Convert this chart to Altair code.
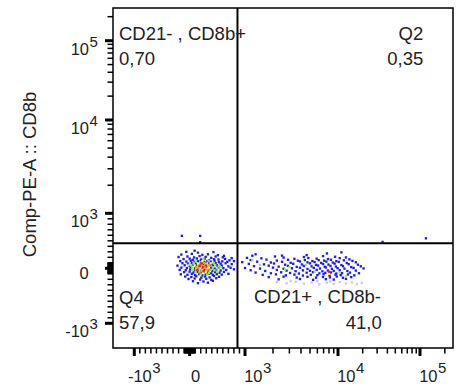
import math
import altair as alt
import pandas as pd

# ---------------- data ----------------
# Level codes: 0 pale, 1 blue, 2 green, 3 yellow, 4 orange, 5 red (density colour)
Q4_CD21 = [-60, 150, 430, 90, -150, 40, 230, 330, 510, 620, -200, -40, 80, 180, 290, 390, 470, 600, 760,
           -110, 0, 60, 130, 210, 270, 350, 440, 520, 640, 720, -170, -60, 20, 90, 150, 200, 260, 320, 380,
           450, 530, 590, 680, 800, -130, -30, 40, 110, 170, 230, 290, 350, 410, 470, 560, 650, 760,
           -220, -90, 0, 60, 120, 180, 240, 300, 360, 420, 490, 580, 700, -150, -50, 20, 100, 160, 230,
           310, 390, 450, 520, 610, 740, -180, -70, 10, 80, 150, 210, 270, 340, 410, 480, 560, 660, 800,
           -100, 0, 70, 140, 200, 260, 330, 390, 460, 540, 620, -160, -40, 40, 100, 170, 230, 290, 350,
           420, 490, 580, 700, -80, 30, 120, 210, 280, 360, 440, 530, -20, 90, 190, 300, 390, 480, 60,
           250, 420, 150, 330]
Q4_CD8B = [300, 285, 295, 320, 250, 262, 245, 255, 240, 228, 205, 215, 198, 222, 208, 190, 215, 200, 185,
           168, 175, 155, 178, 160, 172, 150, 165, 158, 170, 145, 130, 122, 138, 115, 128, 140, 118, 133, 120,
           138, 112, 126, 118, 130, 92, 85, 98, 80, 95, 82, 100, 88, 78, 96, 84, 92, 75,
           48, 55, 42, 60, 38, 52, 65, 45, 58, 40, 55, 48, 35, 12, 5, 18, 0, 15, -2,
           20, 8, -5, 14, 2, 10, -28, -35, -22, -40, -25, -38, -20, -32, -45, -26, -40, -30, -18,
           -70, -62, -78, -65, -85, -60, -75, -90, -68, -80, -66, -110, -118, -100, -125, -105, -130, -112, -98,
           -120, -108, -115, -100, -150, -160, -145, -170, -150, -165, -140, -155, -195, -185, -205, -190, -210, -180, -235,
           -240, -228, -270, -262]
Q4_HOT_CD21 = [250, 110, 340, 70, 190, 300, 430, 30, 160, 330, 460, 530, 50, 140, 250, 420, 500, 60, 180, 300,
               380, 450, 110, 240, 350, 500, 200, 320, -20, 560,
               230, 150, 380, 90, 270, 200, 330, 230, 290, 120,
               260, 220, 350, 120, 280, 320, 180, 170,
               210, 180, 290, 240, 130, 250]
Q4_HOT_CD8B = [168, 125, 140, 90, 102, 85, 95, 48, 62, 50, 60, 40, 12, 22, 8, 18, -2, -30, -22, -40,
               -28, -36, -72, -66, -80, -62, -112, -120, 60, 20,
               130, 88, 92, 52, 40, 15, 0, -35, -70, -10,
               95, 55, 62, 25, 10, -28, -75, 30,
               90, 45, 50, 18, -30, -45]
Q4_HOT_LEVEL = [2] * 30 + [3] * 10 + [4] * 8 + [5] * 6

Q3_CD21 = [1300, 7600, 11000, 2500, 4600, 1200, 2100, 4300, 6900, 9300, 12500,
           1050, 1500, 2600, 3400, 4800, 5900, 7800, 10500, 13800,
           1150, 1700, 2200, 2900, 3700, 4400, 5300, 6200, 7100, 8400, 9600, 11800, 15000,
           950, 1350, 1900, 2500, 3100, 3900, 4700, 5600, 6600, 7500, 8800, 10200, 12800, 16500,
           1100, 1600, 2050, 2700, 3300, 4100, 5000, 5800, 6900, 7900, 9200, 11000, 13500, 17500,
           1250, 1800, 2300, 2900, 3600, 4300, 5200, 6100, 7200, 8300, 9500, 11500, 14500, 19000,
           1000, 1450, 2000, 2600, 3200, 3900, 4700, 5500, 6400, 7400, 8600, 9900, 12000, 15500, 20500,
           1150, 1650, 2200, 2800, 3500, 4200, 5000, 5900, 6800, 7800, 9000, 10500, 13000, 16500,
           1300, 1900, 2450, 3050, 3800, 4600, 5400, 6300, 7300, 8400, 9600, 11200, 14000, 18000,
           1550, 2150, 2750, 3400, 4200, 5100, 6000, 7000, 8100, 9400, 10800, 13200, 15800,
           1800, 2600, 3600, 4700, 5800, 6900, 8200, 9700, 11500, 14500,
           2300, 3900, 5400, 7400, 9000, 12500]
Q3_CD8B = [255, 270, 290, 230, 240, 228, 215, 205, 222, 210, 198,
           190, 182, 195, 172, 188, 176, 168, 185, 162,
           150, 158, 140, 155, 138, 150, 132, 148, 140, 155, 130, 145, 135,
           112, 120, 105, 118, 100, 125, 108, 115, 98, 122, 104, 116, 96, 110,
           80, 72, 88, 65, 82, 70, 90, 62, 78, 68, 85, 60, 75, 66,
           40, 48, 30, 45, 25, 42, 35, 50, 28, 44, 32, 38, 22, 36,
           5, -5, 12, -8, 0, 10, -12, 8, -4, 15, -10, 2, -6, 6, -2,
           -35, -48, -30, -42, -52, -38, -45, -30, -55, -40, -48, -35, -50, -42,
           -78, -90, -72, -85, -95, -80, -70, -92, -82, -75, -95, -88, -78, -90,
           -120, -110, -128, -115, -132, -118, -125, -108, -130, -115, -125, -112, -128,
           -160, -152, -168, -155, -170, -158, -165, -150, -172, -160,
           -200, -195, -210, -198, -205, -192]
Q3_PALE_CD21 = [2200, 2800, 3500, 4300, 5200, 6300, 7600, 9000, 10500, 12500, 14800, 17000, 19500, 3100, 8200, 6000]
Q3_PALE_CD8B = [-250, -272, -245, -280, -258, -290, -262, -285, -250, -275, -258, -290, -265, -230, -240, -235]
Q3_HOT_CD21 = [1200, 3000, 2700, 4500, 10500, 12500, 5600, 1450, 8000, 8000]
Q3_HOT_CD8B = [152, 22, -20, 62, -80, -140, -60, 60, -100, -62]
Q3_HOT_LEVEL = [2, 2, 2, 2, 2, 2, 2, 2, 3, 5]

UPPER_CD21 = [-140, 190, 190, 35000, 118000]
UPPER_CD8B = [590, 590, 475, 480, 545]

GATE_CD21 = [864]
GATE_CD8B = [457]

MAJOR_VALUES = [-1000, 0, 1000, 10000, 100000]
MAJOR_BASE = ["-10", "0", "10", "10", "10"]
MAJOR_EXP = ["3", "", "3", "4", "5"]
MINOR_VALUES = ([-k * 100 for k in range(1, 10)] + [-k * 10 for k in range(1, 10)] +
                [k * 10 for k in range(1, 10)] + [k * 100 for k in range(1, 10)] +
                [k * 1000 for k in range(2, 10)] + [k * 10000 for k in range(2, 10)] + [200000])

QUAD_TEXT = ["CD21- , CD8b+", "0,70", "Q2", "0,35", "Q4", "57,9", "CD21+ , CD8b-", "41,0"]
Y_TITLE = "Comp-PE-A :: CD8b"

# ---------------- build tables ----------------
cd21 = (Q4_CD21 + Q4_HOT_CD21 + Q3_CD21 + Q3_PALE_CD21 + Q3_HOT_CD21 + UPPER_CD21)
cd8b = (Q4_CD8B + Q4_HOT_CD8B + Q3_CD8B + Q3_PALE_CD8B + Q3_HOT_CD8B + UPPER_CD8B)
level = ([1] * len(Q4_CD21) + Q4_HOT_LEVEL + [1] * len(Q3_CD21) + [0] * len(Q3_PALE_CD21)
         + Q3_HOT_LEVEL + [1] * len(UPPER_CD21))
events = pd.DataFrame({"cd21": cd21, "cd8b": cd8b, "lvl": level}).sort_values("lvl", kind="stable")


def u_expr(f):
    # biexponential-like display transform: linear within +-1000, log beyond
    return (f"abs(datum.{f}) <= 1000 ? datum.{f} / 1000 : "
            f"(datum.{f} > 0 ? 1 : -1) * (1 + log(abs(datum.{f}) / 1000) / LN10)")


FONT = "Liberation Sans"
TXT = "#222222"
TICK = "#000000"

x_axis = alt.Axis(ticks=False, labels=False, domain=False, grid=False, title=None)
y_axis = alt.Axis(ticks=False, labels=False, domain=False, grid=False, title=Y_TITLE,
                  titleFont=FONT, titleFontSize=18.5, titleFontWeight="normal", titleColor=TXT,
                  titleAngle=-90, titleAlign="center", titleBaseline="alphabetic",
                  titleX=-77.5, titleY=166)

x_scale = alt.Scale(domain=[-1.385, -1, 1, 2, 3, 3.40], range=[0, 21.3, 132, 225, 307, 340],
                    nice=False, zero=False)
y_scale = alt.Scale(domain=[-1.449, -1, 1, 2, 3, 3.41], range=[340, 315.3, 205.3, 112, 32.7, 0],
                    nice=False, zero=False)

X = alt.X("ux:Q", scale=x_scale, axis=x_axis)
Y = alt.Y("uy:Q", scale=y_scale, axis=y_axis)

points = (alt.Chart(events)
          .transform_calculate(ux=u_expr("cd21"), uy=u_expr("cd8b"))
          .mark_square(size=5.5, opacity=1)
          .encode(x=X, y=Y,
                  color=alt.Color("lvl:O", legend=None,
                                  scale=alt.Scale(domain=[0, 1, 2, 3, 4, 5],
                                                  range=["#c9c9f7", "#1a1aff", "#9cf03c",
                                                         "#ffff20", "#ff9a10", "#ff1a1a"]))))

vgate = (alt.Chart(pd.DataFrame({"g": GATE_CD21}))
         .transform_calculate(ux=u_expr("g"))
         .mark_rule(color="black", strokeWidth=2)
         .encode(x=X))
hgate = (alt.Chart(pd.DataFrame({"g": GATE_CD8B}))
         .transform_calculate(uy=u_expr("g"))
         .mark_rule(color="black", strokeWidth=2)
         .encode(y=Y))

# axis ticks drawn from the tick value lists through the same scales
maj = alt.Chart(pd.DataFrame({"tv": MAJOR_VALUES})).transform_calculate(tx=u_expr("tv"))
mnr = alt.Chart(pd.DataFrame({"tv": MINOR_VALUES})).transform_calculate(tx=u_expr("tv"))
XT = alt.X("tx:Q", scale=x_scale, axis=x_axis)
YT = alt.Y("tx:Q", scale=y_scale, axis=y_axis)
x_maj = maj.mark_rule(color=TICK, strokeWidth=3, clip=False).encode(
    x=XT, y=alt.value(340), y2=alt.value(348))
x_mnr = mnr.mark_rule(color=TICK, strokeWidth=1.5, clip=False).encode(
    x=XT, y=alt.value(340), y2=alt.value(345.5))
y_maj = maj.mark_rule(color=TICK, strokeWidth=3, clip=False).encode(
    y=YT, x=alt.value(-8), x2=alt.value(0))
y_mnr = mnr.mark_rule(color=TICK, strokeWidth=1.5, clip=False).encode(
    y=YT, x=alt.value(-5.5), x2=alt.value(0))

ticks_df = pd.DataFrame({"v": MAJOR_VALUES, "base": MAJOR_BASE, "exp": MAJOR_EXP})
tl = alt.Chart(ticks_df).transform_calculate(ux=u_expr("v"), uy=u_expr("v"))
dec = tl.transform_filter("datum.v != 0")
zer = tl.transform_filter("datum.v == 0")

x_base = dec.mark_text(align="right", baseline="alphabetic", dx=17.5, font=FONT, fontSize=16.5,
                       color=TXT).encode(x=X, y=alt.value(373.7), text="base:N")
x_exp = dec.mark_text(align="left", baseline="alphabetic", dx=18, font=FONT, fontSize=15,
                      color=TXT).encode(x=X, y=alt.value(365.3), text="exp:N")
x_zero = zer.mark_text(align="center", baseline="alphabetic", dx=6, font=FONT, fontSize=16.5,
                       color=TXT).encode(x=X, y=alt.value(373.7), text="base:N")
y_base = dec.mark_text(align="right", baseline="alphabetic", dy=14, font=FONT, fontSize=16.5,
                       color=TXT).encode(y=Y, x=alt.value(-24), text="base:N")
y_exp = dec.mark_text(align="left", baseline="alphabetic", dy=6, font=FONT, fontSize=15,
                      color=TXT).encode(y=Y, x=alt.value(-23.5), text="exp:N")
y_zero = zer.mark_text(align="center", baseline="alphabetic", dy=10.5, font=FONT, fontSize=16.5,
                       color=TXT).encode(y=Y, x=alt.value(-29), text="base:N")

dummy = pd.DataFrame({"k": [0]})
label_pos = [(6, 31.5, "left"), (6, 57, "left"), (310.3, 32, "right"), (310.3, 57, "right"),
             (6, 296, "left"), (6, 321, "left"), (141, 295.3, "left"), (268.7, 321.3, "right")]
quad_layers = []
for (px, py, al), txt in zip(label_pos, QUAD_TEXT):
    quad_layers.append(alt.Chart(dummy).mark_text(text=txt, align=al, baseline="alphabetic",
                                                  font=FONT, fontSize=18.5, color=TXT)
                       .encode(x=alt.value(px), y=alt.value(py)))

chart = (alt.layer(points, vgate, hgate, x_maj, x_mnr, y_maj, y_mnr,
                   x_base, x_exp, x_zero, y_base, y_exp, y_zero, *quad_layers)
         .properties(width=340, height=340, background="white",
                     autosize=alt.AutoSizeParams(type="none"),
                     padding={"left": 113, "top": 8, "right": 3, "bottom": 38})
         .configure_view(stroke="black", strokeWidth=1.5))

chart.save("out.html", embed_options={"renderer": "svg", "actions": False})
